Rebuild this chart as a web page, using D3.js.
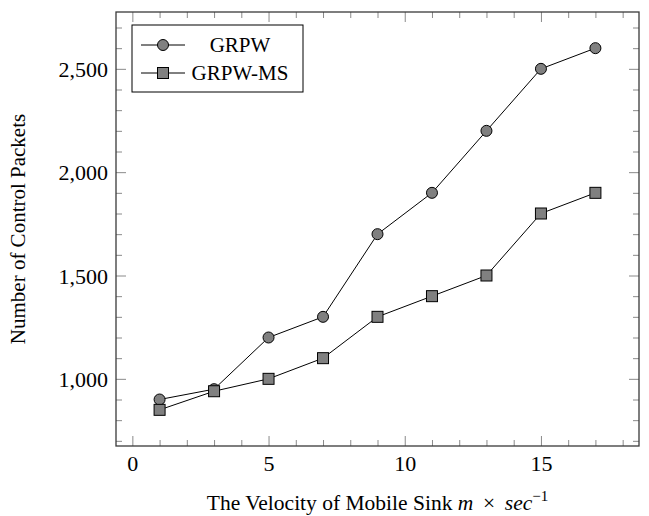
<!DOCTYPE html>
<html>
<head>
<meta charset="utf-8">
<script src="https://cdn.jsdelivr.net/npm/d3@7"></script>
<style>
  html, body { margin: 0; padding: 0; background: #fff; }
  svg { display: block; }
  text { font-family: "Liberation Serif", "Times New Roman", serif; fill: #000; }
</style>
</head>
<body>
<svg id="chart" width="649" height="516"></svg>
<script>
// ---- data ----
const velocity = [1, 3, 5, 7, 9, 11, 13, 15, 17];
const grpw = [900, 950, 1200, 1300, 1700, 1900, 2200, 2500, 2600];
const grpwMs = [850, 940, 1000, 1100, 1300, 1400, 1500, 1800, 1900];
const seriesNames = ["GRPW", "GRPW-MS"];
const xMajorTicks = [0, 5, 10, 15];
const yMajorTicks = [1000, 1500, 2000, 2500];
const xLabel = "The Velocity of Mobile Sink ";
const yLabel = "Number of Control Packets";

// ---- layout ----
const svg = d3.select("#chart");
const L = 116, R = 639, T = 12, B = 446;
const x = d3.scaleLinear().domain([-0.6, 18.6]).range([L, R]);
const y = d3.scaleLinear().domain([675, 2775]).range([B, T]);

const xMinor = d3.range(0, 19, 1).filter(v => !xMajorTicks.includes(v));
const yMinor = d3.range(700, 2800, 100).filter(v => !yMajorTicks.includes(v));
const fmt = d3.format(",");

function styleAxis(g) {
  g.select(".domain").remove();
  g.selectAll(".tick line").attr("stroke", "#8a8a8a").attr("stroke-width", 1);
}

// minor ticks (all four sides, inward)
svg.append("g").attr("transform", `translate(0,${B})`)
  .call(d3.axisBottom(x).tickValues(xMinor).tickSize(-6).tickFormat(""))
  .call(styleAxis);
svg.append("g").attr("transform", `translate(0,${T})`)
  .call(d3.axisTop(x).tickValues(xMinor).tickSize(-6).tickFormat(""))
  .call(styleAxis);
svg.append("g").attr("transform", `translate(${L},0)`)
  .call(d3.axisLeft(y).tickValues(yMinor).tickSize(-6).tickFormat(""))
  .call(styleAxis);
svg.append("g").attr("transform", `translate(${R},0)`)
  .call(d3.axisRight(y).tickValues(yMinor).tickSize(-6).tickFormat(""))
  .call(styleAxis);

// major ticks
const xb = svg.append("g").attr("transform", `translate(0,${B})`)
  .call(d3.axisBottom(x).tickValues(xMajorTicks).tickSize(-10).tickPadding(20).tickFormat(d3.format("d")))
  .call(styleAxis);
svg.append("g").attr("transform", `translate(0,${T})`)
  .call(d3.axisTop(x).tickValues(xMajorTicks).tickSize(-10).tickFormat(""))
  .call(styleAxis);
const yl = svg.append("g").attr("transform", `translate(${L},0)`)
  .call(d3.axisLeft(y).tickValues(yMajorTicks).tickSize(-10).tickPadding(18).tickFormat(fmt))
  .call(styleAxis);
svg.append("g").attr("transform", `translate(${R},0)`)
  .call(d3.axisRight(y).tickValues(yMajorTicks).tickSize(-10).tickFormat(""))
  .call(styleAxis);

xb.selectAll(".tick text")
  .attr("font-family", "Liberation Serif, serif").attr("font-size", 22)
  .attr("fill", "#000").attr("dy", "0.71em").attr("y", 9);
yl.selectAll(".tick text")
  .attr("font-family", "Liberation Serif, serif").attr("font-size", 22)
  .attr("fill", "#000").attr("x", -8).attr("dy", "0.35em");

// frame
svg.append("rect")
  .attr("x", L).attr("y", T).attr("width", R - L).attr("height", B - T)
  .attr("fill", "none").attr("stroke", "#3a3a3a").attr("stroke-width", 1.3);

// series
const seriesData = [grpw, grpwMs];
const line = d3.line().x((d, i) => x(velocity[i])).y(d => y(d));
const markerFill = "#808080";

function drawMarker(g, type, cx, cy) {
  if (type === 0) {
    g.append("circle").attr("cx", cx).attr("cy", cy).attr("r", 5.5)
      .attr("fill", markerFill).attr("stroke", "#000").attr("stroke-width", 1);
  } else {
    g.append("rect").attr("x", cx - 5.5).attr("y", cy - 5.5)
      .attr("width", 11).attr("height", 11)
      .attr("fill", markerFill).attr("stroke", "#000").attr("stroke-width", 1);
  }
}

seriesData.forEach((vals, si) => {
  svg.append("path").datum(vals)
    .attr("d", line).attr("fill", "none")
    .attr("stroke", "#000").attr("stroke-width", 1);
});
seriesData.forEach((vals, si) => {
  const g = svg.append("g");
  vals.forEach((v, i) => drawMarker(g, si, x(velocity[i]), y(v)));
});

// legend
const lg = svg.append("g");
lg.append("rect").attr("x", 132).attr("y", 25).attr("width", 171).attr("height", 67)
  .attr("fill", "#fff").attr("stroke", "#000").attr("stroke-width", 1);
seriesNames.forEach((name, i) => {
  const cy = 45 + i * 28;
  lg.append("line").attr("x1", 141).attr("x2", 185).attr("y1", cy).attr("y2", cy)
    .attr("stroke", "#000").attr("stroke-width", 1);
  drawMarker(lg, i, 163, cy);
  lg.append("text").attr("x", 240).attr("y", cy).attr("dy", "0.35em")
    .attr("text-anchor", "middle").attr("font-size", 21).text(name);
});

// axis labels
const xt = svg.append("text").attr("x", (L + R) / 2).attr("y", 510)
  .attr("text-anchor", "middle").attr("font-size", 21.5);
xt.append("tspan").text(xLabel);
xt.append("tspan").attr("font-style", "italic").text("m");
xt.append("tspan").text(" \u2009×\u2009 ");
xt.append("tspan").attr("font-style", "italic").text("sec");
xt.append("tspan").attr("font-size", 15).attr("dy", -9).text("−1");

svg.append("text")
  .attr("transform", `translate(25,${(T + B) / 2}) rotate(-90)`)
  .attr("text-anchor", "middle").attr("font-size", 21).text(yLabel);
</script>
</body>
</html>
